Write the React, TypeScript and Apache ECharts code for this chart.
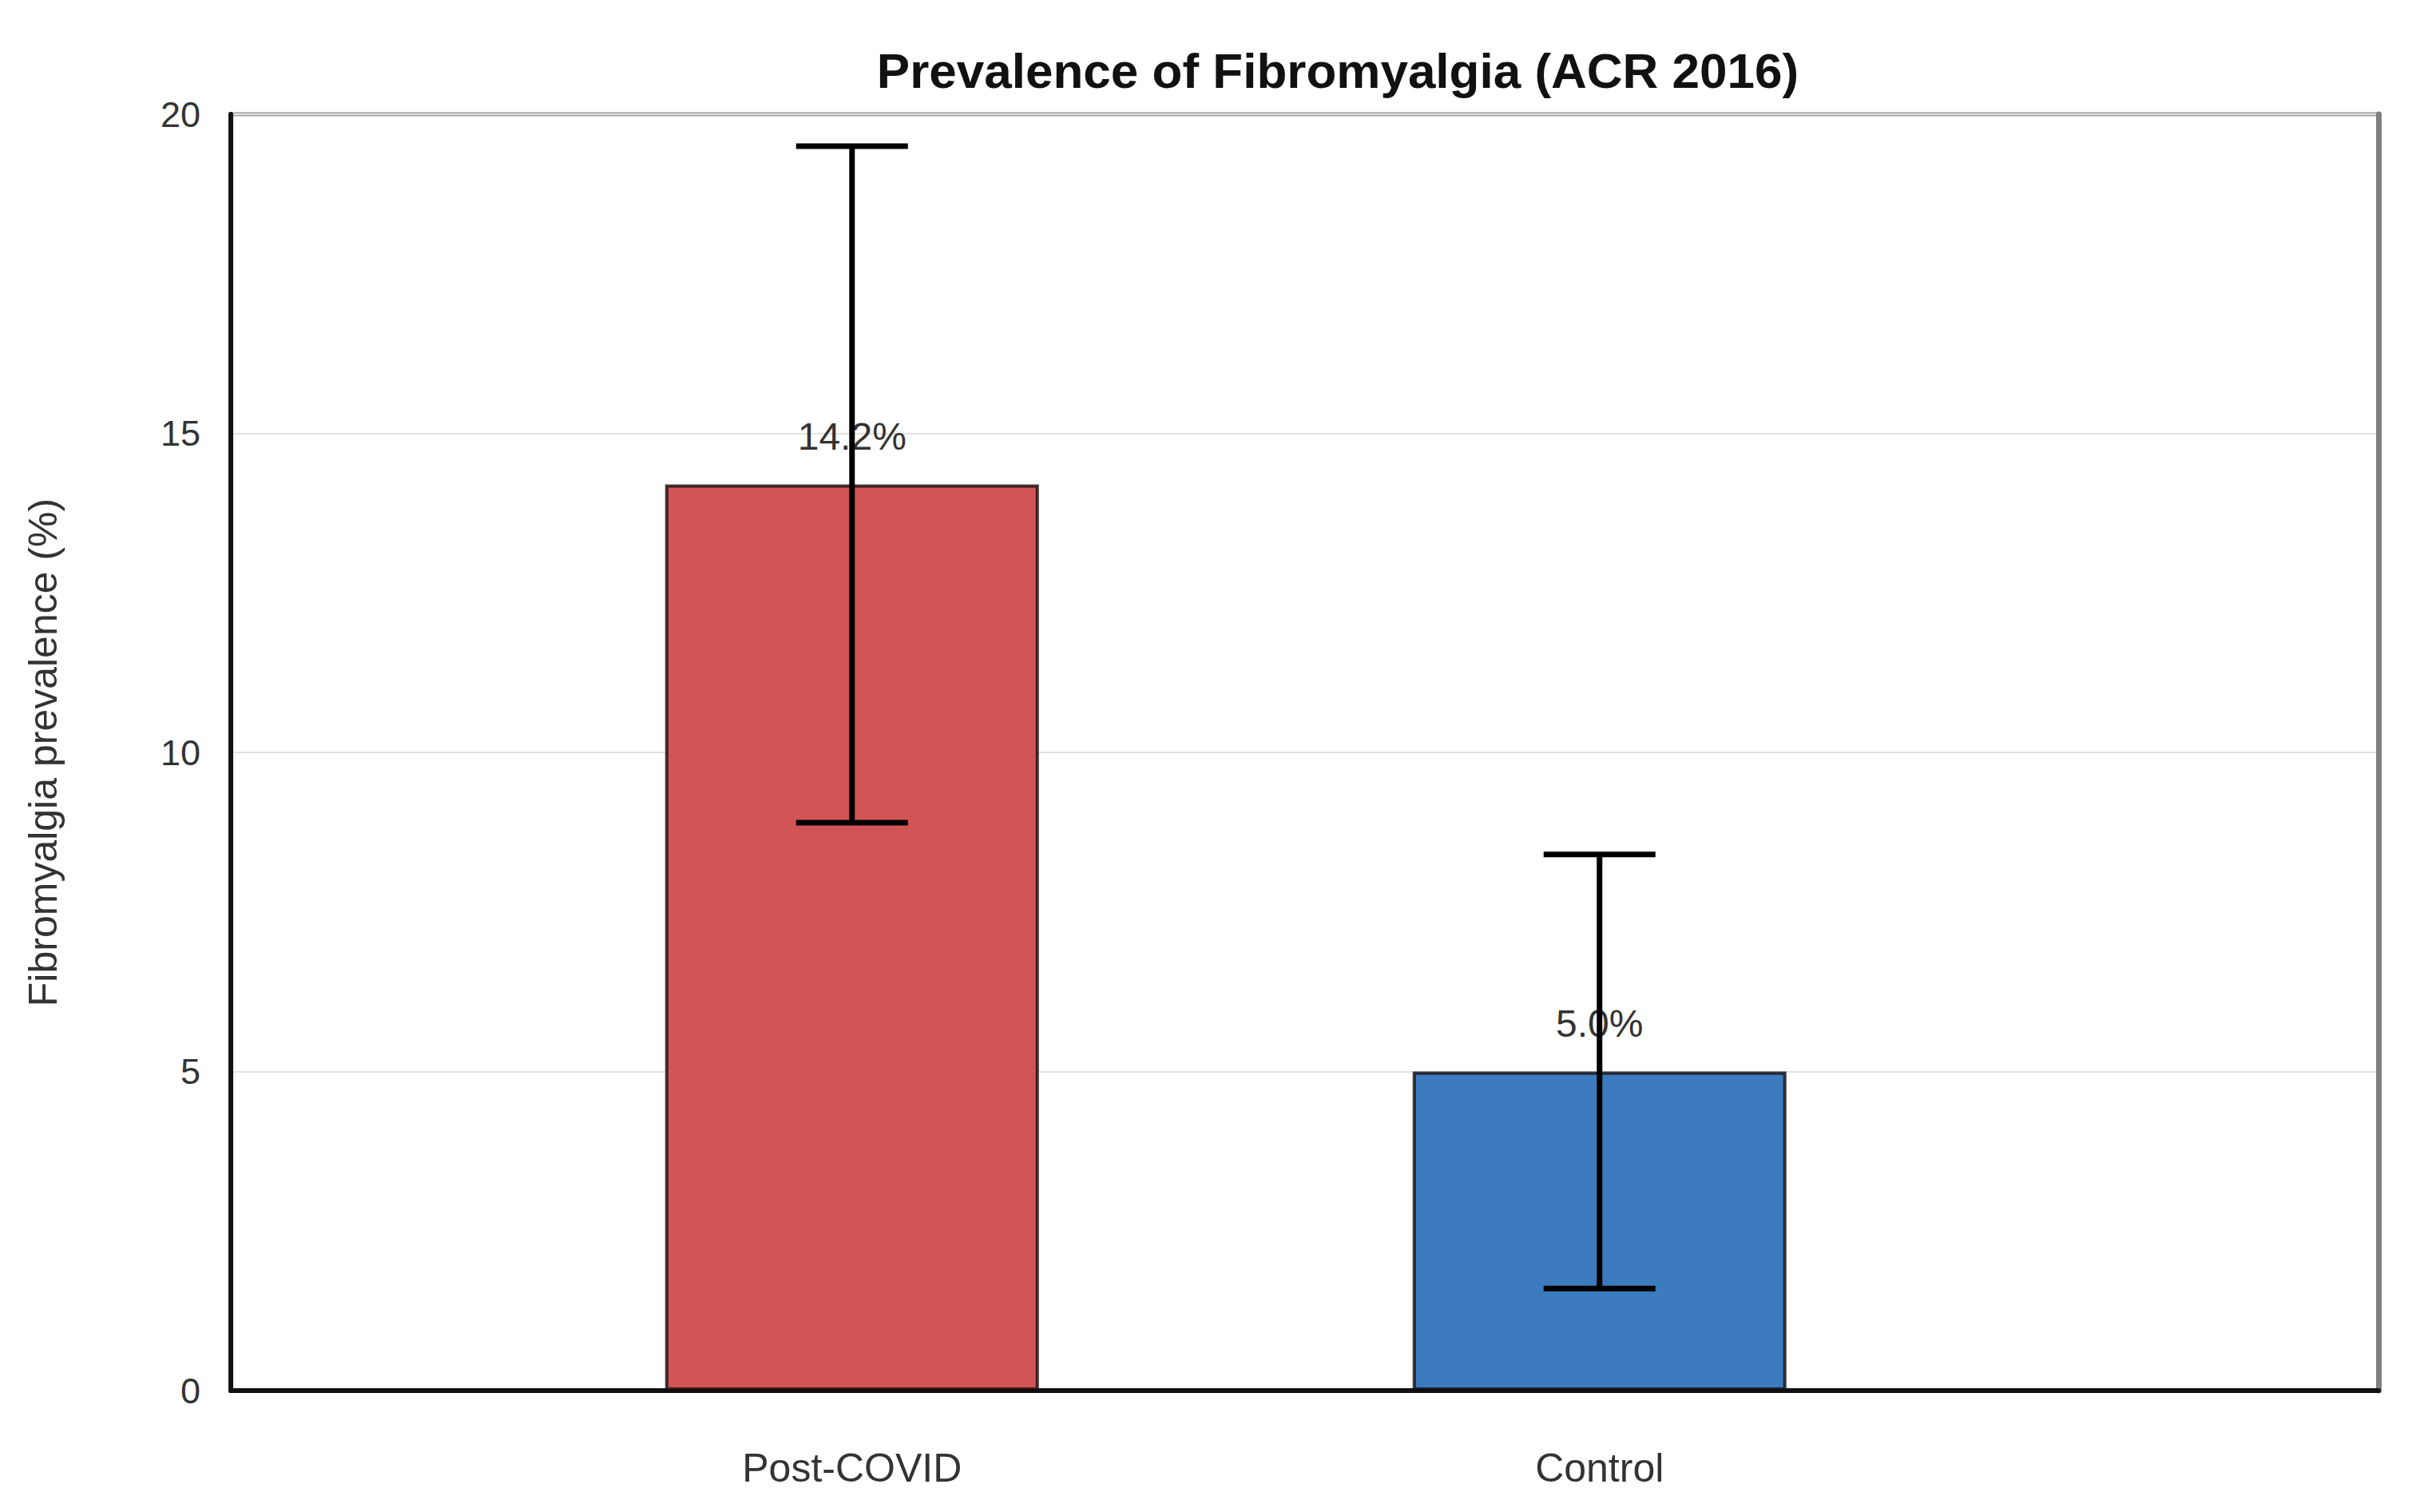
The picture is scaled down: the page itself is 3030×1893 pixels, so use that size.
import React, { useEffect, useRef } from "react";
import * as echarts from "echarts";

const categories = ["Post-COVID", "Control"];
const prevalence = [14.2, 5.0];
const ciLow = [8.9, 1.6];
const ciHigh = [19.5, 8.4];
const barColors = ["#D25556", "#3B7BBE"];
const titleText = "Prevalence of Fibromyalgia (ACR 2016)";
const yAxisName = "Fibromyalgia prevalence (%)";

const FONT = "'Liberation Sans', Arial, sans-serif";

export default function App() {
  const ref = useRef<HTMLDivElement>(null);
  useEffect(() => {
    document.body.style.margin = "0";
    if (!ref.current) return;
    const chart = echarts.init(ref.current, null, { renderer: "svg" });
    const barData = prevalence.map((v, i) => ({
      value: [i, v],
      itemStyle: { color: barColors[i] },
    }));
    const errData = categories.map((_, i) => [i, ciLow[i], ciHigh[i]]);
    chart.setOption({
      animation: false,
      backgroundColor: "#ffffff",
      textStyle: { fontFamily: FONT },
      title: {
        text: titleText,
        left: 1670,
        textAlign: "center",
        top: 52,
        textStyle: { fontFamily: FONT, fontSize: 62, fontWeight: "bold", color: "#111" },
      },
      grid: {
        left: 289,
        right: 52,
        top: 143,
        bottom: 152,
        show: true,
        borderColor: "#a0a0a0",
        borderWidth: 5,
        backgroundColor: "transparent",
      },
      xAxis: {
        type: "value",
        min: -0.831,
        max: 2.042,
        splitLine: { show: false },
        axisTick: { show: false },
        axisLine: { show: true, onZero: false, lineStyle: { color: "#111", width: 6 } },
        axisLabel: {
          customValues: categories.map((_, i) => i),
          formatter: (v: number) => categories[Math.round(v)] ?? "",
          fontFamily: FONT,
          fontSize: 50,
          color: "#333",
          margin: 72,
        },
      },
      yAxis: [
        {
          type: "value",
          min: 0,
          max: 20,
          interval: 5,
          name: yAxisName,
          nameLocation: "middle",
          nameGap: 210,
          nameTextStyle: { fontFamily: FONT, fontSize: 50, color: "#333" },
          axisLine: { show: true, onZero: false, lineStyle: { color: "#111", width: 6 } },
          axisTick: { show: false },
          axisLabel: { fontFamily: FONT, fontSize: 45, color: "#333", margin: 38 },
          splitLine: { show: true, lineStyle: { color: "#e2e2e2", width: 2 } },
        },
        {
          type: "value",
          min: 0,
          max: 20,
          interval: 5,
          position: "right",
          axisLine: { show: true, onZero: false, lineStyle: { color: "#808080", width: 7 } },
          axisTick: { show: false },
          axisLabel: { show: false },
          splitLine: { show: false },
        },
      ],
      series: [
        {
          type: "bar",
          data: barData,
          barWidth: 468,
          itemStyle: { borderColor: "rgba(20,10,10,0.8)", borderWidth: 4 },
          label: {
            show: true,
            position: "top",
            distance: 36,
            fontFamily: FONT,
            fontSize: 48,
            color: "#333",
            formatter: (p: any) => `${p.value[1].toFixed(1)}%`,
          },
          z: 2,
        },
        {
          type: "custom",
          data: errData,
          z: 5,
          renderItem: (params: any, api: any) => {
            const x = api.value(0);
            const lo = api.coord([x, api.value(1)]);
            const hi = api.coord([x, api.value(2)]);
            const half = 70;
            const style = { stroke: "#000", lineWidth: 7 };
            return {
              type: "group",
              children: [
                { type: "line", shape: { x1: lo[0], y1: lo[1], x2: hi[0], y2: hi[1] }, style },
                { type: "line", shape: { x1: hi[0] - half, y1: hi[1], x2: hi[0] + half, y2: hi[1] }, style },
                { type: "line", shape: { x1: lo[0] - half, y1: lo[1], x2: lo[0] + half, y2: lo[1] }, style },
              ],
            };
          },
        },
      ],
    });
    return () => chart.dispose();
  }, []);
  return <div ref={ref} style={{ width: 3030, height: 1893 }} />;
}
